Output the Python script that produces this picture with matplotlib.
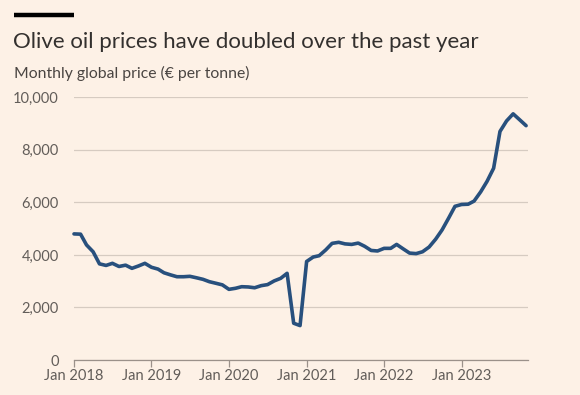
import matplotlib
matplotlib.use("Agg")
import matplotlib.pyplot as plt
import pandas as pd

# Data: monthly global olive oil price (€ per tonne), Jan 2018 - Nov 2023
start_month = "2018-01-01"
prices = [
    4800, 4790, 4380, 4120, 3660, 3600, 3680, 3560, 3610, 3490, 3580, 3680,   # 2018
    3530, 3460, 3320, 3240, 3170, 3170, 3185, 3130, 3070, 2980, 2920, 2860,   # 2019
    2690, 2730, 2790, 2780, 2750, 2830, 2870, 3010, 3110, 3300, 1400, 1310,   # 2020
    3750, 3920, 3970, 4190, 4440, 4480, 4420, 4400, 4450, 4330, 4170, 4150,   # 2021
    4250, 4250, 4400, 4230, 4070, 4050, 4120, 4300, 4600, 4950, 5400, 5850,   # 2022
    5920, 5930, 6050, 6400, 6800, 7300, 8700, 9100, 9370, 9150, 8920,         # 2023
]
dates = pd.date_range(start_month, periods=len(prices), freq="MS")
yticks = [0, 2000, 4000, 6000, 8000, 10000]
xtick_years = [2018, 2019, 2020, 2021, 2022, 2023]

title = "Olive oil prices have doubled over the past year"
subtitle = "Monthly global price (€ per tonne)"

BG = "#fdf1e6"
LINE = "#28507d"
GRID = "#d6cbc1"
AXIS = "#9b918a"
TXT = "#33302e"
TICKTXT = "#625d59"
FONT = ["Lato", "DejaVu Sans"]

plt.rcParams["font.family"] = FONT

W, H = 580, 395
fig = plt.figure(figsize=(W / 100, H / 100), dpi=100, facecolor=BG)

left, right = 74, 528
top, bottom = 97.3, 360
ax = fig.add_axes([left / W, 1 - bottom / H, (right - left) / W, (bottom - top) / H])
ax.set_facecolor(BG)

ax.plot(dates, prices, color=LINE, lw=2.6, solid_joinstyle="round", solid_capstyle="round",
        zorder=3, clip_on=False)

ax.set_ylim(0, 10000)
ax.set_xlim(pd.Timestamp("2018-01-01"), pd.Timestamp("2023-11-10"))
ax.set_yticks(yticks)
ax.set_yticklabels([f"{v:,}" for v in yticks])
xt = [pd.Timestamp(f"{y}-01-01") for y in xtick_years]
ax.set_xticks(xt)
ax.set_xticklabels([f"Jan {y}" for y in xtick_years])

for s in ["top", "right", "left"]:
    ax.spines[s].set_visible(False)
ax.spines["bottom"].set_color(AXIS)
ax.spines["bottom"].set_linewidth(0.9)

ax.grid(axis="y", color=GRID, lw=0.9, zorder=0)
ax.set_axisbelow(True)
ax.tick_params(axis="y", length=0, pad=11, labelsize=10.5, labelcolor=TICKTXT)
ax.tick_params(axis="x", length=5, width=0.9, color=AXIS, pad=1.5, labelsize=10.5,
               labelcolor=TICKTXT)

# Top black bar
fig.add_artist(plt.Line2D([14 / W, 74 / W], [1 - 14.5 / H, 1 - 14.5 / H], color="#000000",
                          lw=3.2, solid_capstyle="butt"))
fig.text(13 / W, 1 - 48 / H, title, fontsize=16, color=TXT, va="baseline", ha="left")
fig.text(13.5 / W, 1 - 78 / H, subtitle, fontsize=11.3, color="#4a4542", va="baseline", ha="left")

fig.savefig("out.png", dpi=100, facecolor=BG)
